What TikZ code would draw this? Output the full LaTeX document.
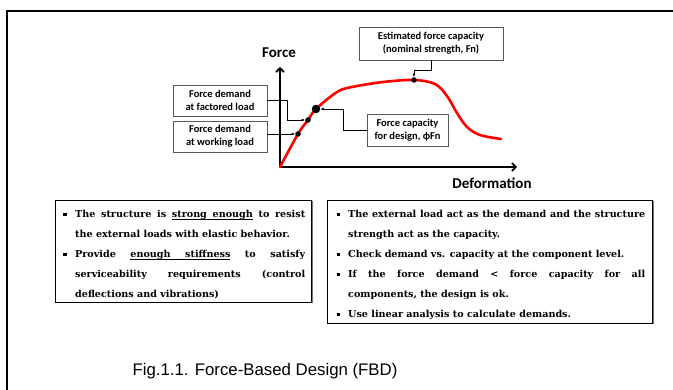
\documentclass[tikz,border=0pt]{standalone}
\usepackage{fontspec}
\usetikzlibrary{arrows.meta,shadows}
\setmainfont{DejaVu Serif}
\newfontfamily\chartfont{Carlito}
\newfontfamily\capfont{Liberation Sans}
\newcommand\uln[1]{\setbox0\hbox{#1}\rlap{\rule[-2.4pt]{\wd0}{0.5pt}}\box0\relax}
\newcommand\ulsp{\leaders\hrule height -1.9pt depth 2.4pt\hskip\fontdimen2\font plus\fontdimen3\font minus\fontdimen4\font}
\newenvironment{fbdlist}{\begin{list}{\raisebox{0.25ex}{\rule{3.2pt}{3.2pt}}}{%
  \setlength{\leftmargin}{13pt}\setlength{\labelwidth}{4pt}\setlength{\labelsep}{8.5pt}%
  \setlength{\itemsep}{0pt}\setlength{\parsep}{0pt}\setlength{\topsep}{0pt}\setlength{\partopsep}{0pt}}}%
  {\end{list}}
\tikzset{
  lbl/.style={draw=black!65, line width=0.7pt, fill=white, align=center, inner sep=0pt,
    font=\chartfont\bfseries\fontsize{10.5}{13}\selectfont},
  pt/.style={circle, fill, inner sep=0pt, minimum size=5.5pt},
  lead/.style={-{Latex[length=3.5pt,width=3pt]}, line width=0.6pt},
  axis/.style={line width=1.6pt, -{Straight Barb[length=4pt,width=8pt]}},
  notebox/.style={draw, line width=1pt, fill=white, anchor=north west,
    drop shadow={shadow xshift=1pt, shadow yshift=-1pt, fill=black!55, opacity=1}},
  notetext/.style={anchor=north west, inner sep=0pt, align=justify,
    font=\bfseries\fontsize{9.6}{20}\selectfont}
}
\begin{document}
\begin{tikzpicture}[x=1pt,y=-1pt]
\useasboundingbox (0,0) rectangle (673,390);
\draw[line width=2.2pt] (7,390) -- (7,11) -- (673,11);
\coordinate (o) at (280,167);
\coordinate (ytip) at (280,67);
\coordinate (xtip) at (517,167);
\draw[axis] (o) -- (ytip);
\draw[axis] (o) -- (xtip);
\node[font=\chartfont\bfseries\fontsize{15}{17}\selectfont] (flbl) at (279,53) {Force};
\node[font=\chartfont\bfseries\fontsize{15}{17}\selectfont] (dlbl) at (492,183) {Deformation};
\draw[red, line width=2.6pt, line cap=round] plot[smooth, tension=0.55] coordinates
  {(280,167) (298,134) (308,120) (316,109) (337,92) (352,87) (383,82) (414,80) (435,84) (447,96) (457,113) (467,127) (480,135) (501,139)};
\node[pt] (dwork) at (298,134) {};
\node[pt] (dfac) at (308,120) {};
\node[pt, minimum size=8.5pt] (dcap) at (316,109) {};
\node[pt] (dpeak) at (414,80) {};
\node[lbl, minimum width=144pt, minimum height=33pt] (est) at (431,43.5) {Estimated force capacity\\(nominal strength, Fn)};
\node[lbl, minimum width=94pt, minimum height=31pt] (fac) at (220,100.5) {Force demand\\at factored load};
\node[lbl, minimum width=94pt, minimum height=31pt] (work) at (220,136.5) {Force demand\\at working load};
\node[lbl, minimum width=81pt, minimum height=32pt] (cap) at (407.5,130) {Force capacity\\for design, ϕFn};
\draw[lead] (est.south) -- ++(0,10) -| (dpeak.north);
\draw[lead] (fac.east) -- ++(20,0) |- (dfac.west);
\draw[lead] (work.east |- dwork) -- (dwork.west);
\draw[lead] (cap.west) -- ++(-23,0) |- (dcap.east);
\node[notebox, minimum width=256pt, minimum height=102pt] (left) at (55,200) {};
\node[notetext, text width=243pt] (lefttxt) at ([xshift=7pt, yshift=3pt]left.north west) {%
  \begin{fbdlist}
  \item The structure is \uln{strong}\ulsp\uln{enough} to resist\linebreak the external loads with elastic behavior.
  \item Provide \uln{enough}\ulsp\uln{stiffness} to satisfy\linebreak serviceability requirements (control\linebreak deflections and vibrations)
  \end{fbdlist}};
\node[notebox, minimum width=325pt, minimum height=123pt] (right) at (327,200) {};
\node[notetext, text width=310pt] (righttxt) at ([xshift=8pt, yshift=3pt]right.north west) {%
  \begin{fbdlist}
  \item The external load act as the demand and the structure\linebreak strength act as the capacity.
  \item Check demand vs. capacity at the component level.
  \item If the force demand < force capacity for all\linebreak components, the design is ok.
  \item Use linear analysis to calculate demands.
  \end{fbdlist}};
\node[font=\capfont\fontsize{16.8}{19}\selectfont] (cpt) at (265,371) {Fig.1.1. Force-Based Design (FBD)};
\end{tikzpicture}
\end{document}
